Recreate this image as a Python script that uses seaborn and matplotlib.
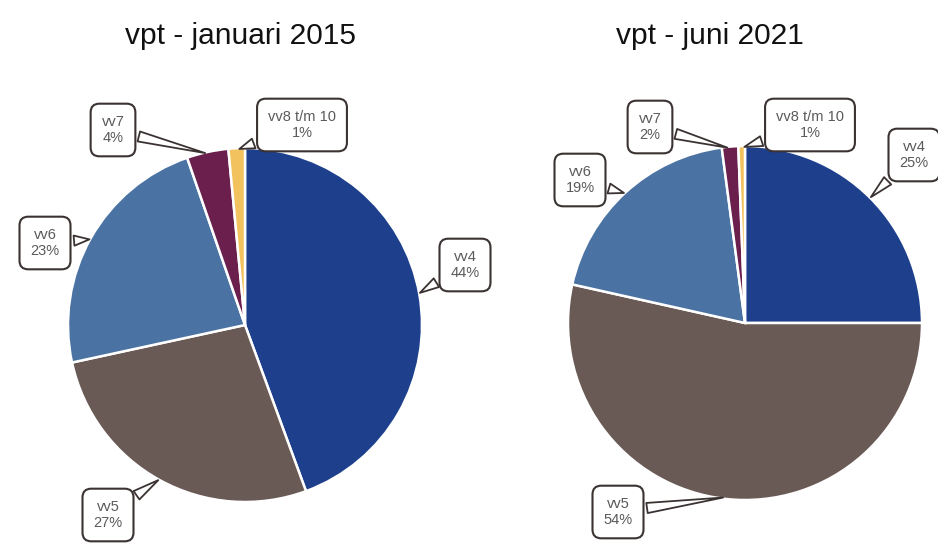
import numpy as np
import matplotlib
matplotlib.use("Agg")
import matplotlib.pyplot as plt
import seaborn as sns

# data
categories = ["vv4", "vv5", "vv6", "vv7", "vv8 t/m 10"]
share_2015 = [44.4, 27.2, 23.1, 3.8, 1.5]
share_2021 = [25.0, 53.5, 19.4, 1.5, 0.6]
labels_2015 = ["44%", "27%", "23%", "4%", "1%"]
labels_2021 = ["25%", "54%", "19%", "2%", "1%"]
titles = ["vpt - januari 2015", "vpt - juni 2021"]

sns.set_theme(style="white")
plt.rcParams['font.family'] = ['Liberation Sans', 'DejaVu Sans']

colors = ["#1d3f8c", "#6a5a56", "#4a72a2", "#6a1f4d", "#f2c25e"]

W, H = 938, 545
fig = plt.figure(figsize=(W / 100, H / 100), dpi=100)

R = 177.0
panels = [
    # axes pixel span, pie centre (px from top-left), title x, label box centres (px from top-left)
    dict(x0=0, x1=469, cx=245, cy=325, tx=240,
         boxes=[(465, 265), (108, 515), (45, 243), (113, 130), (302, 125)]),
    dict(x0=469, x1=938, cx=745, cy=323, tx=710,
         boxes=[(914, 155), (618, 512), (580, 180), (650, 127), (810, 125)]),
]

for p, vals, labs, title in zip(panels, [share_2015, share_2021],
                                [labels_2015, labels_2021], titles):
    ax = fig.add_axes([p["x0"] / W, 0, (p["x1"] - p["x0"]) / W, 1])
    cy_b = H - p["cy"]
    ax.axis("off")
    wedges, _ = ax.pie(vals, colors=colors, startangle=90, counterclock=False,
                       wedgeprops=dict(edgecolor="white", linewidth=1.8))
    ax.set_aspect("auto")
    ax.set_xlim((p["x0"] - p["cx"]) / R, (p["x1"] - p["cx"]) / R)
    ax.set_ylim((0 - cy_b) / R, (H - cy_b) / R)

    for w, cat, lab, (bx, by) in zip(wedges, categories, labs, p["boxes"]):
        ang = np.deg2rad((w.theta1 + w.theta2) / 2)
        xy = (0.99 * np.cos(ang), 0.99 * np.sin(ang))
        ax.annotate(f"{cat}\n{lab}", xy=xy, xytext=(bx, H - by),
                    textcoords="figure pixels", ha="center", va="center",
                    fontsize=10.5, color="#5a5a5a", linespacing=1.25,
                    bbox=dict(boxstyle="round,pad=0.75,rounding_size=0.6",
                              fc="white", ec="#3b3232", lw=1.5),
                    arrowprops=dict(arrowstyle="wedge,tail_width=0.7,shrink_factor=0.5",
                                    fc="white", ec="#3b3232", lw=1.3),
                    annotation_clip=False)

    fig.text(p["tx"] / W, 1 - 36 / H, title, ha="center", va="center",
             fontsize=21.5, color="#111111")

plt.savefig("out.png", dpi=100)
